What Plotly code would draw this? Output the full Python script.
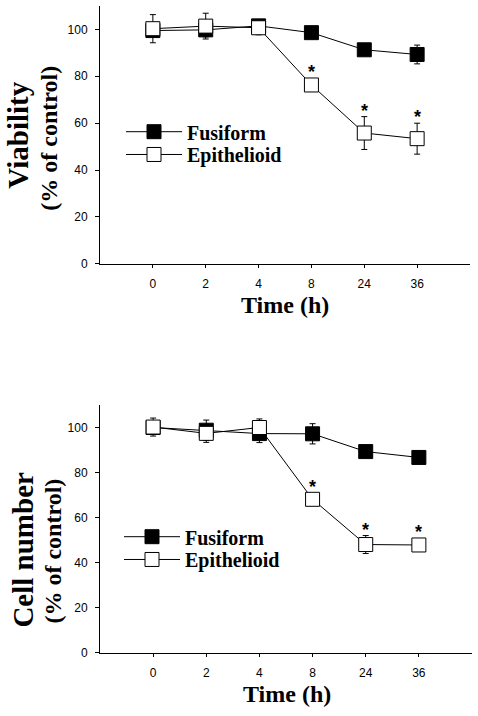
import plotly.graph_objects as go

# ---------------- data ----------------
time_labels = ["0", "2", "4", "8", "24", "36"]

viab_fusiform = [99.5, 99.8, 101.5, 98.6, 91.3, 89.3]
viab_fusiform_err = [2.0, 3.0, 2.7, 2.0, 1.5, 4.0]
viab_epithelioid = [100.3, 101.4, 100.7, 76.3, 55.8, 53.4]
viab_epithelioid_err = [6.0, 5.5, 3.0, 2.0, 7.0, 6.6]

cell_fusiform = [100.0, 98.8, 97.3, 97.2, 89.3, 86.7]
cell_fusiform_err = [2.5, 4.5, 4.0, 4.5, 2.0, 1.5]
cell_epithelioid = [100.2, 97.4, 100.0, 68.1, 48.0, 47.8]
cell_epithelioid_err = [4.0, 4.0, 3.8, 2.0, 4.0, 1.0]

significant = [False, False, False, True, True, True]

y_ticks = [0, 20, 40, 60, 80, 100]

# ---------------- figure ----------------
W, H = 478, 716
SERIF = "Liberation Serif"
SANS = "Liberation Sans"


def px(x):
    return x / W


def py(y):
    return 1 - y / H


fig = go.Figure()
xpos = list(range(len(time_labels)))


def add_panel(fus, fus_err, epi, epi_err, xa, ya, leg_f, leg_e):
    fig.add_trace(go.Scatter(
        x=xpos, y=fus, name="Fusiform", mode="lines+markers",
        xaxis=xa, yaxis=ya, legend=leg_f,
        line=dict(color="black", width=1),
        marker=dict(symbol="square", size=14, color="black",
                    line=dict(color="black", width=1)),
        error_y=dict(type="data", array=fus_err, visible=True,
                     color="black", thickness=1, width=3),
    ))
    fig.add_trace(go.Scatter(
        x=xpos, y=epi, name="Epithelioid", mode="lines+markers",
        xaxis=xa, yaxis=ya, legend=leg_e,
        line=dict(color="black", width=1),
        marker=dict(symbol="square", size=14, color="white",
                    line=dict(color="black", width=1)),
        error_y=dict(type="data", array=epi_err, visible=True,
                     color="black", thickness=1, width=3),
    ))
    for i, s in enumerate(significant):
        if s:
            fig.add_annotation(
                x=xpos[i], y=epi[i] + max(epi_err[i], 3), xref=xa, yref=ya,
                text="*", showarrow=False, yanchor="bottom", yshift=-6,
                font=dict(family=SANS, size=18, color="black", weight="bold"),
            )


add_panel(viab_fusiform, viab_fusiform_err, viab_epithelioid, viab_epithelioid_err,
          "x", "y", "legend", "legend2")
add_panel(cell_fusiform, cell_fusiform_err, cell_epithelioid, cell_epithelioid_err,
          "x2", "y2", "legend3", "legend4")

xaxis_common = dict(
    range=[-1, 6], tickmode="array", tickvals=xpos, ticktext=time_labels,
    showline=True, linecolor="black", linewidth=1, ticks="outside",
    ticklen=3, tickcolor="black", showgrid=False, zeroline=False,
    tickfont=dict(family=SANS, size=12, color="black"), ticklabelstandoff=6,
)
yaxis_common = dict(
    range=[0, 110], tickmode="array", tickvals=y_ticks,
    showline=True, linecolor="black", linewidth=1, ticks="outside",
    ticklen=4, tickcolor="black", showgrid=False, zeroline=False,
    tickfont=dict(family=SANS, size=12, color="black"), ticklabelstandoff=5,
)


def legend_at(x, y):
    return dict(x=px(x), y=py(y), xanchor="left", yanchor="middle",
                bgcolor="rgba(0,0,0,0)", itemwidth=56,
                font=dict(family=SERIF, size=20, color="black", weight="bold"))


fig.update_layout(
    width=W, height=H,
    margin=dict(l=0, r=0, t=0, b=0),
    paper_bgcolor="white", plot_bgcolor="white",
    xaxis=dict(domain=[px(100), px(470)], anchor="y", **xaxis_common),
    yaxis=dict(domain=[py(266.5), py(6)], anchor="x", **yaxis_common),
    xaxis2=dict(domain=[px(100), px(472)], anchor="y2", **xaxis_common),
    yaxis2=dict(domain=[py(659), py(409)], anchor="x2", **yaxis_common),
    legend=legend_at(121, 133),
    legend2=legend_at(121, 156),
    legend3=legend_at(119, 542),
    legend4=legend_at(119, 565),
    showlegend=True,
)


def title(text, x, y, size, angle=0):
    fig.add_annotation(x=px(x), y=py(y), xref="paper", yref="paper",
                       text=text, showarrow=False, textangle=angle,
                       xanchor="center", yanchor="middle",
                       font=dict(family=SERIF, size=size, color="black", weight="bold"))


title("Viability", 18, 137, 29, -90)
title("(% of control)", 49, 140, 24, -90)
title("Time (h)", 285, 308, 24)
title("Cell number", 23, 555, 29, -90)
title("(% of control)", 53, 557, 24, -90)
title("Time (h)", 287, 701, 24)

# remove the browser's default 8px body margin so the figure fills the window
fig.write_html("out.html", config={"displayModeBar": False},
               post_script="document.body.style.margin='0px';")
